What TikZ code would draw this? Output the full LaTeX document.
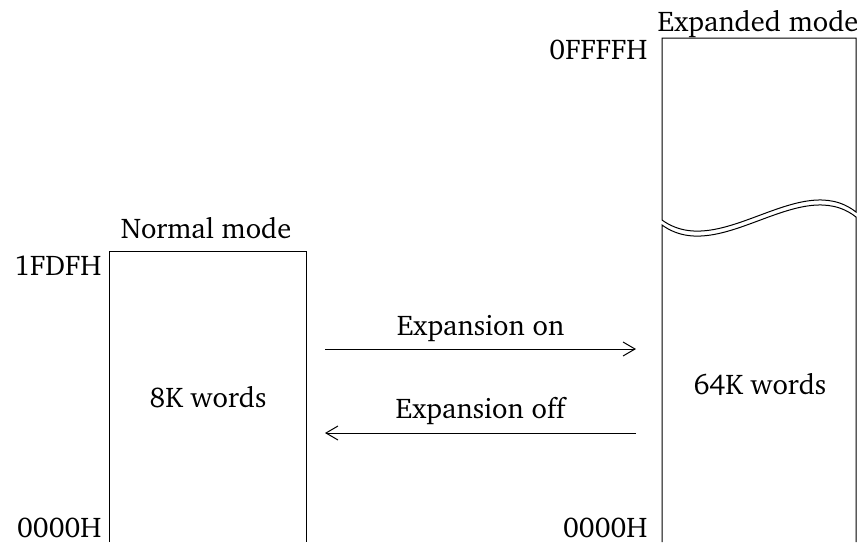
\documentclass[tikz,border=0pt]{standalone}
\usepackage[T1]{fontenc}
\usepackage{charter}
\usetikzlibrary{arrows.meta}
\begin{document}
\begin{tikzpicture}[x=1pt,y=-1pt,line width=1pt,
  lbl/.style={inner sep=0pt,font=\fontsize{28.5}{32}\selectfont},
  conn/.style={-{Straight Barb[length=12pt,width=14pt,line width=1pt]}}]
\useasboundingbox (0,0) rectangle (860,542);
% normal mode box (open at bottom)
\draw (109,542) -- (109,251) -- (306,251) -- (306,542);
% expanded mode box, upper part
\draw (662,220) -- (662,38) -- (856,38) -- (856,212)
  .. controls (800,168) and (720,262) .. (662,220);
% expanded mode box, lower part
\draw (662,542) -- (662,225)
  .. controls (720,267) and (800,173) .. (856,217) -- (856,542);
% labels
\node[lbl,anchor=base] (nm) at (206,238) {Normal mode};
\node[lbl,anchor=base east] (a1) at (102,275) {1FDFH};
\node[lbl,anchor=base east] (a0) at (102,537) {0000H};
\node[lbl,anchor=base] (em) at (758,31) {Expanded mode};
\node[lbl,anchor=base east] (b1) at (648,59) {0FFFFH};
\node[lbl,anchor=base east] (b0) at (648,537) {0000H};
\node[lbl] (w8) at (208,397) {8K words};
\node[lbl] (w64) at (760,385) {64K words};
% arrows
\coordinate (onA) at (325,349);
\coordinate (onB) at (636,349);
\coordinate (offA) at (636,433);
\coordinate (offB) at (325,433);
\draw[conn] (onA) -- node[lbl,above=7pt] (ton) {Expansion on} (onB);
\draw[conn] (offA) -- node[lbl,above=8pt] (toff) {Expansion off} (offB);
\end{tikzpicture}
\end{document}
